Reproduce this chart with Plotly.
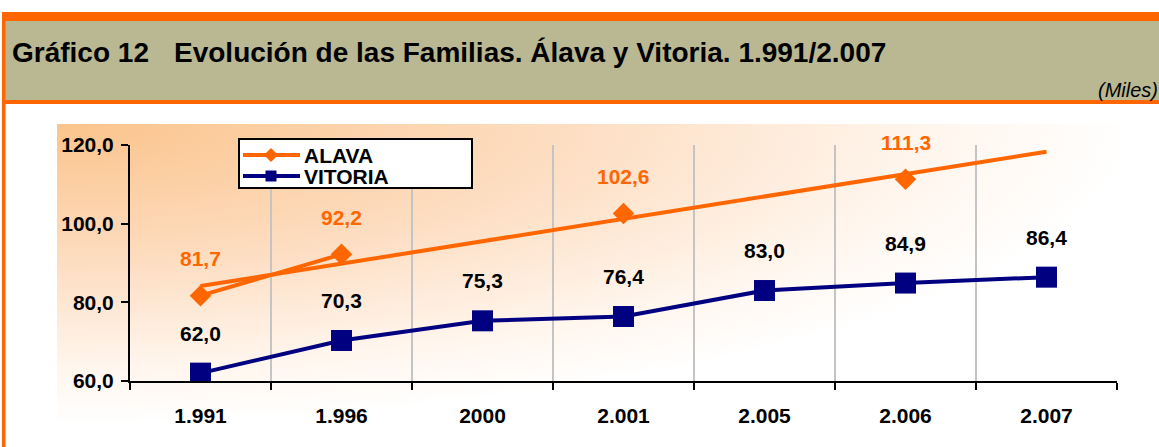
import base64
import numpy as np
import plotly.graph_objects as go

# ---- data ----
categories = ["1.991", "1.996", "2000", "2.001", "2.005", "2.006", "2.007"]
alava = [81.7, 92.2, None, 102.6, None, 111.3, None]
vitoria = [62.0, 70.3, 75.3, 76.4, 83.0, 84.9, 86.4]
y_ticks = [60, 80, 100, 120]

ORANGE = "#ff6600"
NAVY = "#000080"
TAN = "#b9b893"
FONT = "Arial, Liberation Sans, sans-serif"

# ---- pixel -> paper helpers (layout only) ----
WIDTH, HEIGHT = 1159, 447
L, R, T, B = 130, 1117, 145, 381
PW, PH = R - L, B - T


def px(x):
    return (x - L) / PW


def py(y):
    return (B - y) / PH


def fmt(v):
    return f"{v:.1f}".replace(".", ",")


# linear trendline of ALAVA over category index
idx = [i for i, v in enumerate(alava) if v is not None]
vals = [alava[i] for i in idx]
slope, intercept = np.polyfit(idx, vals, 1)
trend_x = [categories[0], categories[-1]]
trend_y = [intercept + slope * 0, intercept + slope * (len(categories) - 1)]

fig = go.Figure()

fig.add_trace(go.Scatter(
    x=trend_x, y=trend_y, mode="lines",
    line=dict(color=ORANGE, width=4), hoverinfo="skip", showlegend=False,
))
fig.add_trace(go.Scatter(
    x=categories, y=alava, mode="lines+markers", name="ALAVA",
    line=dict(color=ORANGE, width=4), connectgaps=False,
    marker=dict(symbol="diamond", size=16.5, color=ORANGE, line=dict(width=0)),
    showlegend=False,
))
fig.add_trace(go.Scatter(
    x=categories, y=vitoria, mode="lines+markers", name="VITORIA",
    line=dict(color=NAVY, width=4),
    marker=dict(symbol="square", size=21, color=NAVY, line=dict(width=0)),
    showlegend=False,
))

annotations = []
for i, v in enumerate(alava):
    if v is None:
        continue
    annotations.append(dict(
        x=i, y=v, xref="x", yref="y", text=f"<b>{fmt(v)}</b>", showarrow=False,
        yshift=37, font=dict(family=FONT, size=21, color=ORANGE),
    ))
for i, v in enumerate(vitoria):
    annotations.append(dict(
        x=i, y=v, xref="x", yref="y", text=f"<b>{fmt(v)}</b>", showarrow=False,
        yshift=40, font=dict(family=FONT, size=21, color="black"),
    ))

# header texts
annotations.append(dict(
    x=px(10), y=py(52.5), xref="paper", yref="paper", xanchor="left", yanchor="middle",
    text="<b>Gráfico 12</b>", showarrow=False, font=dict(family=FONT, size=28, color="black"),
))
annotations.append(dict(
    x=px(172), y=py(52.5), xref="paper", yref="paper", xanchor="left", yanchor="middle",
    text="<b>Evolución de las Familias. Álava y Vitoria. 1.991/2.007</b>", showarrow=False,
    font=dict(family=FONT, size=28, color="black"),
))
annotations.append(dict(
    x=px(1096), y=py(89.5), xref="paper", yref="paper", xanchor="left", yanchor="middle",
    text="<i>(Miles)</i>", showarrow=False, font=dict(family=FONT, size=20, color="black"),
))
# legend texts
annotations.append(dict(
    x=px(302), y=py(155), xref="paper", yref="paper", xanchor="left", yanchor="middle",
    text="<b>ALAVA</b>", showarrow=False, font=dict(family=FONT, size=21, color="black"),
))
annotations.append(dict(
    x=px(302), y=py(176), xref="paper", yref="paper", xanchor="left", yanchor="middle",
    text="<b>VITORIA</b>", showarrow=False, font=dict(family=FONT, size=21, color="black"),
))


def rect(x0, y0, x1, y1, fill, line_color=None, lw=0, layer="below"):
    return dict(type="rect", xref="paper", yref="paper",
                x0=px(x0), x1=px(x1), y0=py(y1), y1=py(y0),
                fillcolor=fill, line=dict(color=line_color or fill, width=lw), layer=layer)


shapes = [
    rect(2, 12, 1170, 104, ORANGE),          # orange header frame
    rect(5, 21, 1170, 100, TAN),             # tan header band
    rect(2, 12, 5.5, 450, ORANGE),           # left orange border
    # legend box
    dict(type="rect", xref="paper", yref="paper", x0=px(239), x1=px(472), y0=py(188), y1=py(139),
         fillcolor="white", line=dict(color="black", width=2), layer="above"),
    dict(type="line", xref="paper", yref="paper", x0=px(243), x1=px(300), y0=py(155), y1=py(155),
         line=dict(color=ORANGE, width=4), layer="above"),
    dict(type="line", xref="paper", yref="paper", x0=px(243), x1=px(300), y0=py(176), y1=py(176),
         line=dict(color=NAVY, width=4), layer="above"),
    dict(type="path", xref="paper", yref="paper",
         path=f"M {px(271)},{py(148)} L {px(278)},{py(155)} L {px(271)},{py(162)} L {px(264)},{py(155)} Z",
         fillcolor=ORANGE, line=dict(color=ORANGE, width=0), layer="above"),
    dict(type="rect", xref="paper", yref="paper", x0=px(265.5), x1=px(276.5), y0=py(181.5), y1=py(170.5),
         fillcolor=NAVY, line=dict(color=NAVY, width=0), layer="above"),
]

# gradient background for the chart area
svg = (
    '<svg xmlns="http://www.w3.org/2000/svg" width="1000" height="300" preserveAspectRatio="none">'
    '<defs><radialGradient id="g" cx="0" cy="0" r="1" fx="0" fy="0">'
    '<stop offset="0" stop-color="#fbc48c"/>'
    '<stop offset="0.45" stop-color="#fddcbf"/>'
    '<stop offset="0.8" stop-color="#fff5ec"/>'
    '<stop offset="1" stop-color="#ffffff"/>'
    '</radialGradient></defs>'
    '<rect x="0" y="0" width="1000" height="300" fill="url(#g)"/></svg>'
)
src = "data:image/svg+xml;base64," + base64.b64encode(svg.encode()).decode()
images = [dict(source=src, xref="paper", yref="paper", x=px(57), y=py(124),
               sizex=px(1135) - px(57), sizey=py(124) - py(424),
               xanchor="left", yanchor="top", sizing="stretch", layer="below")]

fig.update_layout(
    width=WIDTH, height=HEIGHT,
    margin=dict(l=L, r=WIDTH - R, t=T, b=HEIGHT - B, autoexpand=False),
    paper_bgcolor="white", plot_bgcolor="rgba(0,0,0,0)",
    separators=",.",
    font=dict(family=FONT, color="black"),
    showlegend=False, hovermode=False,
    shapes=shapes, annotations=annotations, images=images,
    xaxis=dict(
        type="category", categoryorder="array", categoryarray=categories,
        range=[-0.5, len(categories) - 0.5], tickson="boundaries",
        showgrid=True, gridcolor="#c4c4c4", gridwidth=2,
        showline=True, linecolor="black", linewidth=2,
        ticks="outside", ticklen=7, tickwidth=2, tickcolor="black",
        tickfont=dict(family=FONT, size=21, color="black", weight="bold"),
        ticklabelstandoff=15, fixedrange=True,
    ),
    yaxis=dict(
        range=[60, 120], tickvals=y_ticks, tickformat=".1f",
        showgrid=False, zeroline=False,
        showline=True, linecolor="black", linewidth=2,
        ticks="outside", ticklen=7, tickwidth=2, tickcolor="black",
        tickfont=dict(family=FONT, size=21, color="black", weight="bold"),
        ticklabelstandoff=3, fixedrange=True,
    ),
)

fig.write_html(
    "out.html",
    config={"displayModeBar": False, "staticPlot": True},
    post_script="document.body.style.margin='0';document.body.style.overflow='hidden';",
)
